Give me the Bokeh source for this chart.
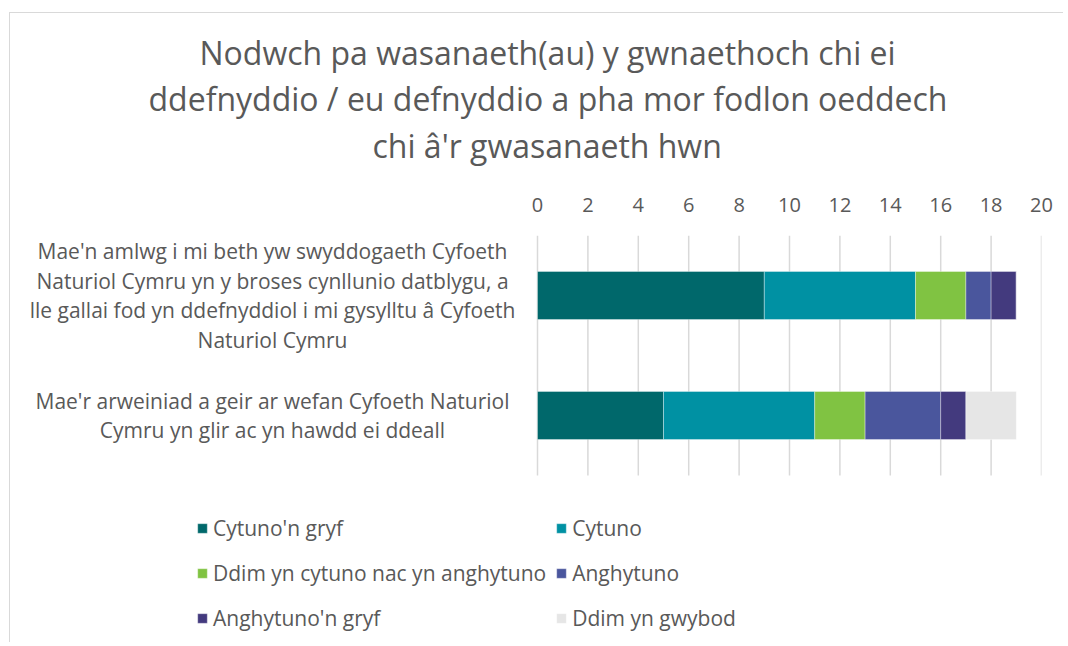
from bokeh.plotting import figure
from bokeh.models import Range1d, Legend, LegendItem, FixedTicker, Title, LinearAxis
from bokeh.core.properties import value
from bokeh.embed import file_html
from bokeh.resources import INLINE

title_lines = ["Nodwch pa wasanaeth(au) y gwnaethoch chi ei",
               "ddefnyddio / eu defnyddio a pha mor fodlon oeddech",
               "chi â'r gwasanaeth hwn"]

categories = [
    "Mae'n amlwg i mi beth yw swyddogaeth Cyfoeth\nNaturiol Cymru yn y broses cynllunio datblygu, a\nlle gallai fod yn ddefnyddiol i mi gysylltu â Cyfoeth\nNaturiol Cymru",
    "Mae'r arweiniad a geir ar wefan Cyfoeth Naturiol\nCymru yn glir ac yn hawdd ei ddeall",
]
series_names = ["Cytuno'n gryf", "Cytuno", "Ddim yn cytuno nac yn anghytuno",
                "Anghytuno", "Anghytuno'n gryf", "Ddim yn gwybod"]
series_values = [
    [9, 5],
    [6, 6],
    [2, 2],
    [1, 3],
    [1, 1],
    [0, 2],
]
colors = ["#00686B", "#0091A3", "#80C342", "#4A569D", "#433A7E", "#E6E6E6"]
x_ticks = [0, 2, 4, 6, 8, 10, 12, 14, 16, 18, 20]

TEXT = "#595959"
FONT = "Open Sans"

# layout (pixels)
W, H = 1054, 630
ZERO_PX = 527           # x=0 inside the frame
FRAME_RIGHT = 1031
FRAME_TOP = 222
BAND = 120              # pixels per category band
PX_PER_UNIT = (FRAME_RIGHT - ZERO_PX) / (x_ticks[-1] - x_ticks[0])
x_start = x_ticks[0] - ZERO_PX / PX_PER_UNIT
n = len(categories)
y_top = n - 0.5
y_bottom = y_top - (H - FRAME_TOP) / BAND

p = figure(width=W, height=H, output_backend="svg", toolbar_location=None,
           x_range=Range1d(x_start, x_ticks[-1]),
           y_range=Range1d(y_bottom, y_top),
           x_axis_location="above", y_axis_location=None,
           min_border_left=0, min_border_right=W - FRAME_RIGHT,
           min_border_top=FRAME_TOP, min_border_bottom=0)
p.styles = {"border-left": "1px solid #d9d9d9", "border-top": "1px solid #d9d9d9",
            "margin-top": "12px", "margin-left": "9px"}
p.outline_line_color = None
p.background_fill_color = "white"
p.border_fill_color = "white"

ax = p.xaxis[0]
ax.ticker = FixedTicker(ticks=x_ticks)
ax.axis_line_color = None
ax.major_tick_line_color = None
ax.minor_tick_line_color = None
ax.major_tick_out = 0
ax.major_tick_in = 0
ax.major_label_standoff = 24
ax.major_label_text_font = FONT
ax.major_label_text_font_size = "20px"
ax.major_label_text_color = TEXT

# blank spacer axis between the tick labels and the title
spacer = LinearAxis(ticker=FixedTicker(ticks=[x_ticks[0]]), axis_line_color=None,
                    major_tick_line_color=None, minor_tick_line_color=None,
                    major_tick_in=0, major_tick_out=27, major_label_standoff=0,
                    major_label_overrides={x_ticks[0]: ""},
                    major_label_text_font_size="0px")
p.add_layout(spacer, "above")

p.xgrid.visible = False
p.ygrid.visible = False
# vertical gridlines only over the bar area
p.segment(x0=x_ticks, x1=x_ticks, y0=[-0.5] * len(x_ticks), y1=[y_top] * len(x_ticks),
          line_color="#D9D9D9", line_width=1.5)

ypos = [n - 1 - i for i in range(n)]
left = [0] * n
items = []
for name, vals, col in zip(series_names, series_values, colors):
    right = [l + v for l, v in zip(left, vals)]
    r = p.hbar(y=ypos, left=left, right=right, height=0.4, fill_color=col,
               line_color="white", line_width=0.6, line_alpha=0.6)
    items.append(LegendItem(label=name, renderers=[r]))
    left = right

p.text(x=[0] * n, y=ypos, text=categories, x_offset=-265, text_align="center",
       text_baseline="middle", text_font=value(FONT), text_font_size="21px",
       text_color=TEXT, text_line_height=1.05)

# title: one Title per line, nearest line first
title_offsets = [189, 138, 362]
title_standoffs = [2, 1, 2]
for line, off, so in reversed(list(zip(title_lines, title_offsets, title_standoffs))):
    p.add_layout(Title(text=line, align="left", offset=off, standoff=so,
                       text_font=FONT, text_font_size="32px", text_font_style="normal",
                       text_color=TEXT), "above")

legend = Legend(items=items, location=(186, 7), orientation="horizontal", ncols=2,
                padding=0, margin=0, spacing=9, label_height=36, glyph_width=12,
                glyph_height=12, label_standoff=5, border_line_color=None,
                background_fill_alpha=0, label_text_font=FONT,
                label_text_font_size="21px", label_text_color=TEXT)
p.add_layout(legend, "center")

open("out.html", "w").write(file_html(p, INLINE))
